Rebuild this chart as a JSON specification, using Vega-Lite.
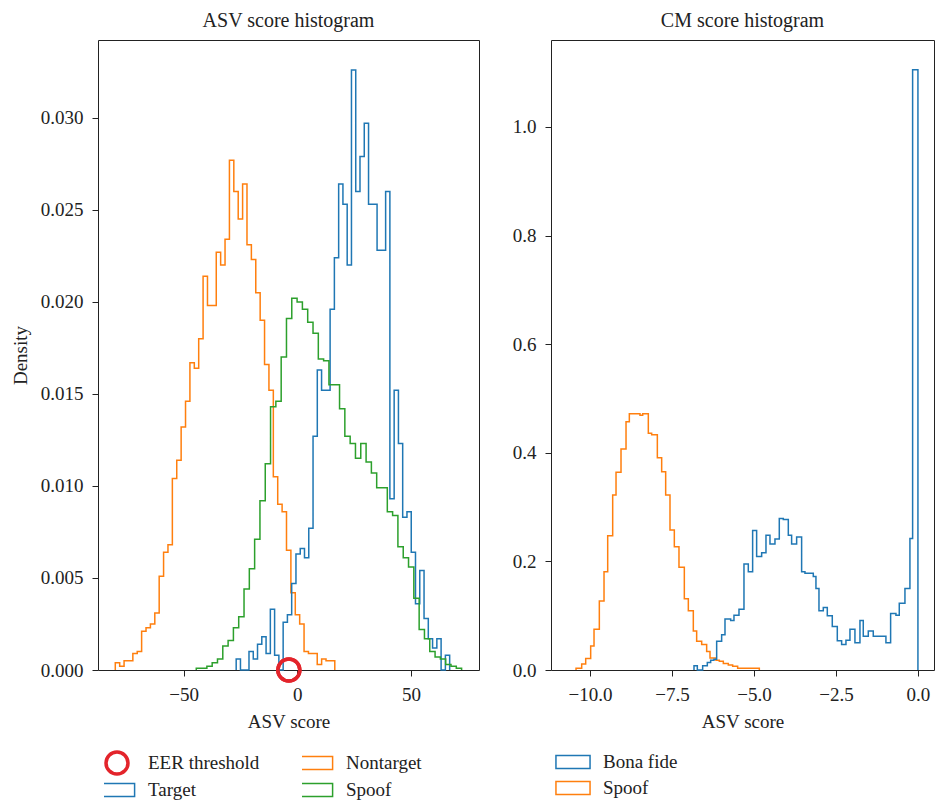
{
  "$schema": "https://vega.github.io/schema/vega-lite/v6.json",
  "padding": {"left": 10, "top": 10, "right": 0, "bottom": 0},
  "background": "white",
  "config": {
    "font": "Liberation Serif",
    "view": {"stroke": "#222", "strokeWidth": 1},
    "axis": {"labelFont": "Liberation Serif", "titleFont": "Liberation Serif", "labelFontSize": 19, "titleFontSize": 19, "titleFontWeight": "normal", "labelColor": "#222", "titleColor": "#222", "tickColor": "#222", "domain": false, "grid": false, "tickSize": 6, "labelPadding": 9},
    "axisX": {"titlePadding": 8},
    "title": {"font": "Liberation Serif", "fontSize": 20, "fontWeight": "normal", "color": "#222", "offset": 9},
    "legend": {"labelFont": "Liberation Serif", "labelFontSize": 19, "labelColor": "#222"}
  },
  "datasets": {
    "asv": [
      {"series": "Nontarget", "score": -80.00, "density": 0, "i": 0},
      {"series": "Nontarget", "score": -80.00, "density": 0.0004, "i": 1},
      {"series": "Nontarget", "score": -78.07, "density": 0.0002, "i": 2},
      {"series": "Nontarget", "score": -76.14, "density": 0.0005, "i": 3},
      {"series": "Nontarget", "score": -74.21, "density": 0.0005, "i": 4},
      {"series": "Nontarget", "score": -72.28, "density": 0.0009, "i": 5},
      {"series": "Nontarget", "score": -70.35, "density": 0.0010, "i": 6},
      {"series": "Nontarget", "score": -68.42, "density": 0.0021, "i": 7},
      {"series": "Nontarget", "score": -66.49, "density": 0.0023, "i": 8},
      {"series": "Nontarget", "score": -64.56, "density": 0.0025, "i": 9},
      {"series": "Nontarget", "score": -62.63, "density": 0.0031, "i": 10},
      {"series": "Nontarget", "score": -60.70, "density": 0.0051, "i": 11},
      {"series": "Nontarget", "score": -58.77, "density": 0.0064, "i": 12},
      {"series": "Nontarget", "score": -56.84, "density": 0.0068, "i": 13},
      {"series": "Nontarget", "score": -54.91, "density": 0.0104, "i": 14},
      {"series": "Nontarget", "score": -52.98, "density": 0.0114, "i": 15},
      {"series": "Nontarget", "score": -51.05, "density": 0.0132, "i": 16},
      {"series": "Nontarget", "score": -49.12, "density": 0.0146, "i": 17},
      {"series": "Nontarget", "score": -47.19, "density": 0.0167, "i": 18},
      {"series": "Nontarget", "score": -45.26, "density": 0.0164, "i": 19},
      {"series": "Nontarget", "score": -43.33, "density": 0.0180, "i": 20},
      {"series": "Nontarget", "score": -41.40, "density": 0.0214, "i": 21},
      {"series": "Nontarget", "score": -39.47, "density": 0.0198, "i": 22},
      {"series": "Nontarget", "score": -37.54, "density": 0.0198, "i": 23},
      {"series": "Nontarget", "score": -35.61, "density": 0.0227, "i": 24},
      {"series": "Nontarget", "score": -33.68, "density": 0.0220, "i": 25},
      {"series": "Nontarget", "score": -31.75, "density": 0.0234, "i": 26},
      {"series": "Nontarget", "score": -29.82, "density": 0.0277, "i": 27},
      {"series": "Nontarget", "score": -27.89, "density": 0.0260, "i": 28},
      {"series": "Nontarget", "score": -25.96, "density": 0.0245, "i": 29},
      {"series": "Nontarget", "score": -24.03, "density": 0.0264, "i": 30},
      {"series": "Nontarget", "score": -22.10, "density": 0.0231, "i": 31},
      {"series": "Nontarget", "score": -20.17, "density": 0.0223, "i": 32},
      {"series": "Nontarget", "score": -18.24, "density": 0.0205, "i": 33},
      {"series": "Nontarget", "score": -16.31, "density": 0.0190, "i": 34},
      {"series": "Nontarget", "score": -14.38, "density": 0.0166, "i": 35},
      {"series": "Nontarget", "score": -12.45, "density": 0.0152, "i": 36},
      {"series": "Nontarget", "score": -10.52, "density": 0.0105, "i": 37},
      {"series": "Nontarget", "score": -8.59, "density": 0.0090, "i": 38},
      {"series": "Nontarget", "score": -6.66, "density": 0.0086, "i": 39},
      {"series": "Nontarget", "score": -4.73, "density": 0.0065, "i": 40},
      {"series": "Nontarget", "score": -2.80, "density": 0.0042, "i": 41},
      {"series": "Nontarget", "score": -0.87, "density": 0.0030, "i": 42},
      {"series": "Nontarget", "score": 1.06, "density": 0.0025, "i": 43},
      {"series": "Nontarget", "score": 2.99, "density": 0.0010, "i": 44},
      {"series": "Nontarget", "score": 4.92, "density": 0.0009, "i": 45},
      {"series": "Nontarget", "score": 6.85, "density": 0.0009, "i": 46},
      {"series": "Nontarget", "score": 8.78, "density": 0.0003, "i": 47},
      {"series": "Nontarget", "score": 10.71, "density": 0.0006, "i": 48},
      {"series": "Nontarget", "score": 12.64, "density": 0.0005, "i": 49},
      {"series": "Nontarget", "score": 14.57, "density": 0.0005, "i": 50},
      {"series": "Nontarget", "score": 16.50, "density": 0, "i": 51},

      {"series": "Target", "score": -26.85, "density": 0, "i": 0},
      {"series": "Target", "score": -26.85, "density": 0.0006, "i": 1},
      {"series": "Target", "score": -24.97, "density": 0, "i": 2},
      {"series": "Target", "score": -23.10, "density": 0, "i": 3},
      {"series": "Target", "score": -21.22, "density": 0.0010, "i": 4},
      {"series": "Target", "score": -19.34, "density": 0.0006, "i": 5},
      {"series": "Target", "score": -17.47, "density": 0.0014, "i": 6},
      {"series": "Target", "score": -15.59, "density": 0.0018, "i": 7},
      {"series": "Target", "score": -13.71, "density": 0.0009, "i": 8},
      {"series": "Target", "score": -11.83, "density": 0.0033, "i": 9},
      {"series": "Target", "score": -9.96, "density": 0.0008, "i": 10},
      {"series": "Target", "score": -8.08, "density": 0, "i": 11},
      {"series": "Target", "score": -6.20, "density": 0.0026, "i": 12},
      {"series": "Target", "score": -4.33, "density": 0.0030, "i": 13},
      {"series": "Target", "score": -2.45, "density": 0.0047, "i": 14},
      {"series": "Target", "score": -0.57, "density": 0.0063, "i": 15},
      {"series": "Target", "score": 1.31, "density": 0.0066, "i": 16},
      {"series": "Target", "score": 3.18, "density": 0.0061, "i": 17},
      {"series": "Target", "score": 5.06, "density": 0.0077, "i": 18},
      {"series": "Target", "score": 6.94, "density": 0.0127, "i": 19},
      {"series": "Target", "score": 8.81, "density": 0.0163, "i": 20},
      {"series": "Target", "score": 10.69, "density": 0.0152, "i": 21},
      {"series": "Target", "score": 12.57, "density": 0.0152, "i": 22},
      {"series": "Target", "score": 14.44, "density": 0.0196, "i": 23},
      {"series": "Target", "score": 16.32, "density": 0.0224, "i": 24},
      {"series": "Target", "score": 18.20, "density": 0.0264, "i": 25},
      {"series": "Target", "score": 20.08, "density": 0.0253, "i": 26},
      {"series": "Target", "score": 21.95, "density": 0.0220, "i": 27},
      {"series": "Target", "score": 23.83, "density": 0.0326, "i": 28},
      {"series": "Target", "score": 25.71, "density": 0.0260, "i": 29},
      {"series": "Target", "score": 27.58, "density": 0.0279, "i": 30},
      {"series": "Target", "score": 29.46, "density": 0.0297, "i": 31},
      {"series": "Target", "score": 31.34, "density": 0.0253, "i": 32},
      {"series": "Target", "score": 33.21, "density": 0.0253, "i": 33},
      {"series": "Target", "score": 35.09, "density": 0.0228, "i": 34},
      {"series": "Target", "score": 36.97, "density": 0.0228, "i": 35},
      {"series": "Target", "score": 38.85, "density": 0.0260, "i": 36},
      {"series": "Target", "score": 40.72, "density": 0.0093, "i": 37},
      {"series": "Target", "score": 42.60, "density": 0.0152, "i": 38},
      {"series": "Target", "score": 44.48, "density": 0.0123, "i": 39},
      {"series": "Target", "score": 46.35, "density": 0.0083, "i": 40},
      {"series": "Target", "score": 48.23, "density": 0.0086, "i": 41},
      {"series": "Target", "score": 50.11, "density": 0.0064, "i": 42},
      {"series": "Target", "score": 51.98, "density": 0.0036, "i": 43},
      {"series": "Target", "score": 53.86, "density": 0.0054, "i": 44},
      {"series": "Target", "score": 55.74, "density": 0.0028, "i": 45},
      {"series": "Target", "score": 57.61, "density": 0.0017, "i": 46},
      {"series": "Target", "score": 59.49, "density": 0.0012, "i": 47},
      {"series": "Target", "score": 61.37, "density": 0.0017, "i": 48},
      {"series": "Target", "score": 63.24, "density": 0, "i": 49},
      {"series": "Target", "score": 65.12, "density": 0.0008, "i": 50},
      {"series": "Target", "score": 67.00, "density": 0, "i": 51},

      {"series": "Spoof", "score": -44.40, "density": 0, "i": 0},
      {"series": "Spoof", "score": -44.40, "density": 0.0001, "i": 1},
      {"series": "Spoof", "score": -42.07, "density": 0.0001, "i": 2},
      {"series": "Spoof", "score": -39.73, "density": 0.0002, "i": 3},
      {"series": "Spoof", "score": -37.40, "density": 0.0004, "i": 4},
      {"series": "Spoof", "score": -35.07, "density": 0.0006, "i": 5},
      {"series": "Spoof", "score": -32.74, "density": 0.0013, "i": 6},
      {"series": "Spoof", "score": -30.40, "density": 0.0016, "i": 7},
      {"series": "Spoof", "score": -28.07, "density": 0.0023, "i": 8},
      {"series": "Spoof", "score": -25.74, "density": 0.0029, "i": 9},
      {"series": "Spoof", "score": -23.40, "density": 0.0044, "i": 10},
      {"series": "Spoof", "score": -21.07, "density": 0.0055, "i": 11},
      {"series": "Spoof", "score": -18.74, "density": 0.0071, "i": 12},
      {"series": "Spoof", "score": -16.40, "density": 0.0092, "i": 13},
      {"series": "Spoof", "score": -14.07, "density": 0.0112, "i": 14},
      {"series": "Spoof", "score": -11.74, "density": 0.0143, "i": 15},
      {"series": "Spoof", "score": -9.41, "density": 0.0146, "i": 16},
      {"series": "Spoof", "score": -7.07, "density": 0.0170, "i": 17},
      {"series": "Spoof", "score": -4.74, "density": 0.0191, "i": 18},
      {"series": "Spoof", "score": -2.41, "density": 0.0202, "i": 19},
      {"series": "Spoof", "score": -0.07, "density": 0.0200, "i": 20},
      {"series": "Spoof", "score": 2.26, "density": 0.0196, "i": 21},
      {"series": "Spoof", "score": 4.59, "density": 0.0189, "i": 22},
      {"series": "Spoof", "score": 6.93, "density": 0.0183, "i": 23},
      {"series": "Spoof", "score": 9.26, "density": 0.0169, "i": 24},
      {"series": "Spoof", "score": 11.59, "density": 0.0168, "i": 25},
      {"series": "Spoof", "score": 13.93, "density": 0.0155, "i": 26},
      {"series": "Spoof", "score": 16.26, "density": 0.0155, "i": 27},
      {"series": "Spoof", "score": 18.59, "density": 0.0142, "i": 28},
      {"series": "Spoof", "score": 20.92, "density": 0.0127, "i": 29},
      {"series": "Spoof", "score": 23.26, "density": 0.0123, "i": 30},
      {"series": "Spoof", "score": 25.59, "density": 0.0115, "i": 31},
      {"series": "Spoof", "score": 27.92, "density": 0.0123, "i": 32},
      {"series": "Spoof", "score": 30.26, "density": 0.0113, "i": 33},
      {"series": "Spoof", "score": 32.59, "density": 0.0107, "i": 34},
      {"series": "Spoof", "score": 34.92, "density": 0.0099, "i": 35},
      {"series": "Spoof", "score": 37.26, "density": 0.0099, "i": 36},
      {"series": "Spoof", "score": 39.59, "density": 0.0086, "i": 37},
      {"series": "Spoof", "score": 41.92, "density": 0.0084, "i": 38},
      {"series": "Spoof", "score": 44.25, "density": 0.0067, "i": 39},
      {"series": "Spoof", "score": 46.59, "density": 0.0061, "i": 40},
      {"series": "Spoof", "score": 48.92, "density": 0.0056, "i": 41},
      {"series": "Spoof", "score": 51.25, "density": 0.0039, "i": 42},
      {"series": "Spoof", "score": 53.59, "density": 0.0022, "i": 43},
      {"series": "Spoof", "score": 55.92, "density": 0.0017, "i": 44},
      {"series": "Spoof", "score": 58.25, "density": 0.0010, "i": 45},
      {"series": "Spoof", "score": 60.59, "density": 0.0007, "i": 46},
      {"series": "Spoof", "score": 62.92, "density": 0.0006, "i": 47},
      {"series": "Spoof", "score": 65.25, "density": 0.0003, "i": 48},
      {"series": "Spoof", "score": 67.58, "density": 0.0002, "i": 49},
      {"series": "Spoof", "score": 69.92, "density": 0.0001, "i": 50},
      {"series": "Spoof", "score": 72.25, "density": 0, "i": 51}
    ],
    "eer": [
      {"series": "EER threshold", "score": -3.7, "density": 0}
    ],
    "cm": [
      {"series": "Spoof", "score": -10.427, "density": 0, "i": 0},
      {"series": "Spoof", "score": -10.427, "density": 0.003, "i": 1},
      {"series": "Spoof", "score": -10.254, "density": 0.011, "i": 2},
      {"series": "Spoof", "score": -10.132, "density": 0.021, "i": 3},
      {"series": "Spoof", "score": -9.980, "density": 0.044, "i": 4},
      {"series": "Spoof", "score": -9.878, "density": 0.075, "i": 5},
      {"series": "Spoof", "score": -9.716, "density": 0.127, "i": 6},
      {"series": "Spoof", "score": -9.573, "density": 0.181, "i": 7},
      {"series": "Spoof", "score": -9.461, "density": 0.247, "i": 8},
      {"series": "Spoof", "score": -9.309, "density": 0.322, "i": 9},
      {"series": "Spoof", "score": -9.207, "density": 0.364, "i": 10},
      {"series": "Spoof", "score": -9.055, "density": 0.407, "i": 11},
      {"series": "Spoof", "score": -8.902, "density": 0.457, "i": 12},
      {"series": "Spoof", "score": -8.801, "density": 0.472, "i": 13},
      {"series": "Spoof", "score": -8.476, "density": 0.469, "i": 14},
      {"series": "Spoof", "score": -8.394, "density": 0.472, "i": 15},
      {"series": "Spoof", "score": -8.222, "density": 0.436, "i": 16},
      {"series": "Spoof", "score": -8.120, "density": 0.433, "i": 17},
      {"series": "Spoof", "score": -7.947, "density": 0.391, "i": 18},
      {"series": "Spoof", "score": -7.815, "density": 0.365, "i": 19},
      {"series": "Spoof", "score": -7.693, "density": 0.322, "i": 20},
      {"series": "Spoof", "score": -7.561, "density": 0.258, "i": 21},
      {"series": "Spoof", "score": -7.429, "density": 0.227, "i": 22},
      {"series": "Spoof", "score": -7.287, "density": 0.189, "i": 23},
      {"series": "Spoof", "score": -7.124, "density": 0.131, "i": 24},
      {"series": "Spoof", "score": -7.002, "density": 0.109, "i": 25},
      {"series": "Spoof", "score": -6.850, "density": 0.072, "i": 26},
      {"series": "Spoof", "score": -6.748, "density": 0.053, "i": 27},
      {"series": "Spoof", "score": -6.595, "density": 0.047, "i": 28},
      {"series": "Spoof", "score": -6.443, "density": 0.034, "i": 29},
      {"series": "Spoof", "score": -6.341, "density": 0.022, "i": 30},
      {"series": "Spoof", "score": -6.159, "density": 0.018, "i": 31},
      {"series": "Spoof", "score": -6.057, "density": 0.016, "i": 32},
      {"series": "Spoof", "score": -5.935, "density": 0.012, "i": 33},
      {"series": "Spoof", "score": -5.783, "density": 0.009, "i": 34},
      {"series": "Spoof", "score": -5.650, "density": 0.007, "i": 35},
      {"series": "Spoof", "score": -5.498, "density": 0.003, "i": 36},
      {"series": "Spoof", "score": -4.837, "density": 0, "i": 37},

      {"series": "Bona fide", "score": -6.829, "density": 0, "i": 0},
      {"series": "Bona fide", "score": -6.829, "density": 0.008, "i": 1},
      {"series": "Bona fide", "score": -6.728, "density": 0, "i": 2},
      {"series": "Bona fide", "score": -6.565, "density": 0.008, "i": 3},
      {"series": "Bona fide", "score": -6.423, "density": 0.014, "i": 4},
      {"series": "Bona fide", "score": -6.321, "density": 0.018, "i": 5},
      {"series": "Bona fide", "score": -6.220, "density": 0.020, "i": 6},
      {"series": "Bona fide", "score": -6.138, "density": 0.053, "i": 7},
      {"series": "Bona fide", "score": -5.986, "density": 0.065, "i": 8},
      {"series": "Bona fide", "score": -5.884, "density": 0.094, "i": 9},
      {"series": "Bona fide", "score": -5.711, "density": 0.091, "i": 10},
      {"series": "Bona fide", "score": -5.610, "density": 0.101, "i": 11},
      {"series": "Bona fide", "score": -5.457, "density": 0.112, "i": 12},
      {"series": "Bona fide", "score": -5.305, "density": 0.195, "i": 13},
      {"series": "Bona fide", "score": -5.173, "density": 0.181, "i": 14},
      {"series": "Bona fide", "score": -5.041, "density": 0.257, "i": 15},
      {"series": "Bona fide", "score": -4.919, "density": 0.209, "i": 16},
      {"series": "Bona fide", "score": -4.766, "density": 0.216, "i": 17},
      {"series": "Bona fide", "score": -4.634, "density": 0.248, "i": 18},
      {"series": "Bona fide", "score": -4.512, "density": 0.232, "i": 19},
      {"series": "Bona fide", "score": -4.360, "density": 0.241, "i": 20},
      {"series": "Bona fide", "score": -4.228, "density": 0.279, "i": 21},
      {"series": "Bona fide", "score": -4.106, "density": 0.277, "i": 22},
      {"series": "Bona fide", "score": -3.953, "density": 0.248, "i": 23},
      {"series": "Bona fide", "score": -3.852, "density": 0.232, "i": 24},
      {"series": "Bona fide", "score": -3.699, "density": 0.245, "i": 25},
      {"series": "Bona fide", "score": -3.547, "density": 0.181, "i": 26},
      {"series": "Bona fide", "score": -3.445, "density": 0.178, "i": 27},
      {"series": "Bona fide", "score": -3.191, "density": 0.172, "i": 28},
      {"series": "Bona fide", "score": -3.110, "density": 0.150, "i": 29},
      {"series": "Bona fide", "score": -3.018, "density": 0.109, "i": 30},
      {"series": "Bona fide", "score": -2.886, "density": 0.115, "i": 31},
      {"series": "Bona fide", "score": -2.764, "density": 0.100, "i": 32},
      {"series": "Bona fide", "score": -2.612, "density": 0.080, "i": 33},
      {"series": "Bona fide", "score": -2.459, "density": 0.054, "i": 34},
      {"series": "Bona fide", "score": -2.327, "density": 0.047, "i": 35},
      {"series": "Bona fide", "score": -2.195, "density": 0.055, "i": 36},
      {"series": "Bona fide", "score": -2.073, "density": 0.075, "i": 37},
      {"series": "Bona fide", "score": -1.921, "density": 0.050, "i": 38},
      {"series": "Bona fide", "score": -1.768, "density": 0.091, "i": 39},
      {"series": "Bona fide", "score": -1.667, "density": 0.062, "i": 40},
      {"series": "Bona fide", "score": -1.514, "density": 0.072, "i": 41},
      {"series": "Bona fide", "score": -1.362, "density": 0.062, "i": 42},
      {"series": "Bona fide", "score": -0.976, "density": 0.050, "i": 43},
      {"series": "Bona fide", "score": -0.833, "density": 0.104, "i": 44},
      {"series": "Bona fide", "score": -0.671, "density": 0.101, "i": 45},
      {"series": "Bona fide", "score": -0.569, "density": 0.123, "i": 46},
      {"series": "Bona fide", "score": -0.396, "density": 0.150, "i": 47},
      {"series": "Bona fide", "score": -0.244, "density": 0.242, "i": 48},
      {"series": "Bona fide", "score": -0.162, "density": 1.105, "i": 49},
      {"series": "Bona fide", "score": 0.0, "density": 0, "i": 50}
    ]
  },
  "hconcat": [
    {
      "width": 381,
      "height": 630,
      "title": "ASV score histogram",
      "layer": [
        {
          "data": {"name": "eer"},
          "mark": {"type": "point", "filled": false, "size": 484, "strokeWidth": 3.5, "opacity": 1},
          "encoding": {
            "x": {"field": "score", "type": "quantitative", "scale": {"domain": [-87.6, 79.9], "nice": false, "zero": false}, "axis": {"values": [-50, 0, 50], "format": "d", "title": "ASV score"}},
            "y": {"field": "density", "type": "quantitative", "scale": {"domain": [0, 0.03423], "nice": false, "zero": false}, "axis": {"values": [0, 0.005, 0.01, 0.015, 0.02, 0.025, 0.03], "format": ".3f", "title": "Density", "titlePadding": 10}},
            "color": {"field": "series", "type": "nominal", "scale": {"domain": ["EER threshold", "Target", "Nontarget", "Spoof"], "range": ["#e3242b", "#1f77b4", "#ff7f0e", "#2ca02c"]},
              "legend": {"orient": "none", "legendX": 6, "legendY": 710, "columns": 2, "gridAlign": "all", "clipHeight": 26, "title": null, "symbolSize": 484, "symbolFillColor": "transparent", "labelFontSize": 19, "labelOffset": 18, "columnPadding": 42, "rowPadding": 1}},
            "shape": {"field": "series", "type": "nominal", "scale": {"domain": ["EER threshold", "Target", "Nontarget", "Spoof"], "range": ["circle", "M-1.6,-0.6H1.6V0.6H-1.6Z", "M-1.6,-0.6H1.6V0.6H-1.6Z", "M-1.6,-0.6H1.6V0.6H-1.6Z"]},
              "legend": {"orient": "none", "legendX": 6, "legendY": 710, "columns": 2, "gridAlign": "all", "clipHeight": 26, "title": null, "symbolSize": 484, "symbolFillColor": "transparent", "labelFontSize": 19, "labelOffset": 18, "columnPadding": 42, "rowPadding": 1}},
            "strokeWidth": {"field": "series", "type": "nominal", "scale": {"type": "ordinal", "domain": ["EER threshold", "Target", "Nontarget", "Spoof"], "range": [3.5, 1.5, 1.5, 1.5]},
              "legend": {"orient": "none", "legendX": 6, "legendY": 710, "columns": 2, "gridAlign": "all", "clipHeight": 26, "title": null, "symbolSize": 484, "symbolFillColor": "transparent", "labelFontSize": 19, "labelOffset": 18, "columnPadding": 42, "rowPadding": 1}}
          }
        },
        {
          "data": {"name": "asv"},
          "mark": {"type": "line", "interpolate": "step-after", "strokeWidth": 1.5},
          "encoding": {
            "x": {"field": "score", "type": "quantitative"},
            "y": {"field": "density", "type": "quantitative"},
            "color": {"field": "series", "type": "nominal"},
            "order": {"field": "i", "type": "quantitative"}
          }
        },
        {
          "data": {"name": "eer"},
          "mark": {"type": "point", "filled": false, "size": 484, "strokeWidth": 3.5, "opacity": 1, "color": "#e3242b"},
          "encoding": {
            "x": {"field": "score", "type": "quantitative"},
            "y": {"field": "density", "type": "quantitative"}
          }
        }
      ]
    },
    {
      "width": 383,
      "height": 630,
      "title": "CM score histogram",
      "data": {"name": "cm"},
      "mark": {"type": "line", "interpolate": "step-after", "strokeWidth": 1.5},
      "encoding": {
        "x": {"field": "score", "type": "quantitative", "scale": {"domain": [-11.19, 0.49], "nice": false, "zero": false}, "axis": {"values": [-10, -7.5, -5, -2.5, 0], "format": ".1f", "title": "ASV score"}},
        "y": {"field": "density", "type": "quantitative", "scale": {"domain": [0, 1.16], "nice": false, "zero": false}, "axis": {"values": [0, 0.2, 0.4, 0.6, 0.8, 1.0], "format": ".1f", "title": null}},
        "color": {"field": "series", "type": "nominal", "scale": {"domain": ["Bona fide", "Spoof"], "range": ["#1f77b4", "#ff7f0e"]},
          "legend": {"orient": "none", "legendX": 10, "legendY": 710, "title": null, "symbolType": "M-1.55,-0.59H1.55V0.59H-1.55Z", "symbolSize": 484, "symbolStrokeWidth": 1.5, "symbolFillColor": "transparent", "labelFontSize": 19, "labelOffset": 18, "rowPadding": 4}},
        "order": {"field": "i", "type": "quantitative"}
      }
    }
  ],
  "spacing": 72,
  "bounds": "flush",
  "resolve": {"scale": {"color": "independent", "shape": "independent", "strokeWidth": "independent"}, "legend": {"color": "independent", "shape": "independent", "strokeWidth": "independent"}}
}
